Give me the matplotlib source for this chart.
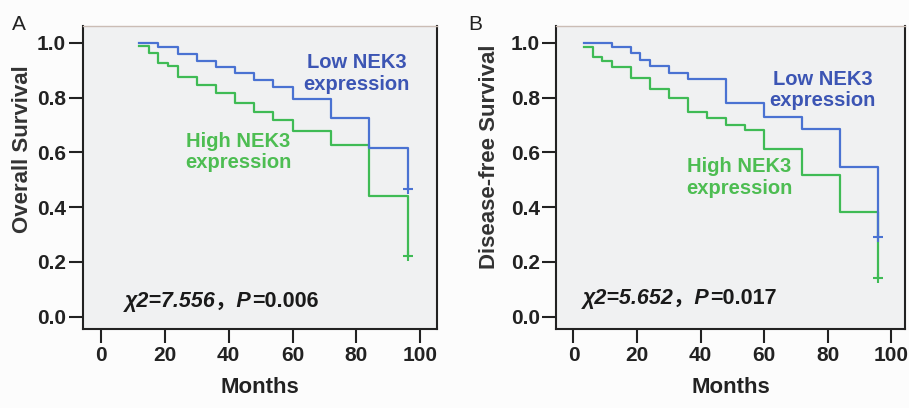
import numpy as np
import matplotlib
matplotlib.use("Agg")
import matplotlib.pyplot as plt

# Panel A: overall survival (Kaplan-Meier step values)
os_low_t = [12, 18, 24, 30, 36, 42, 48, 54, 60, 72, 84, 96]
os_low_s = [1.0, 0.983, 0.959, 0.934, 0.912, 0.888, 0.864, 0.839, 0.794, 0.724, 0.615, 0.465]
os_high_t = [12, 15, 18, 21, 24, 30, 36, 42, 48, 54, 60, 72, 84, 96]
os_high_s = [0.989, 0.961, 0.925, 0.915, 0.876, 0.846, 0.815, 0.779, 0.748, 0.718, 0.679, 0.627, 0.440, 0.22]

# Panel B: disease-free survival
dfs_low_t = [3.3, 12, 18, 21, 24, 30, 36, 48, 60, 72, 84, 96]
dfs_low_s = [1.0, 0.983, 0.961, 0.937, 0.915, 0.891, 0.866, 0.779, 0.730, 0.684, 0.547, 0.29]
dfs_high_t = [3.3, 6, 9, 12, 18, 24, 30, 36, 42, 48, 54, 60, 72, 84, 96]
dfs_high_s = [0.983, 0.949, 0.934, 0.910, 0.870, 0.831, 0.797, 0.748, 0.724, 0.700, 0.681, 0.612, 0.517, 0.383, 0.14]

panel_letters = ["A", "B"]
y_labels = ["Overall Survival", "Disease-free Survival"]
stat_italic = ["\u03c72=7.556\uff0cP", "\u03c72=5.652\uff0cP"]
stat_plain = ["=0.006", "=0.017"]
x_ticks = [0, 20, 40, 60, 80, 100]
y_ticks = [0.0, 0.2, 0.4, 0.6, 0.8, 1.0]

BLUE = "#4a72d2"
GREEN = "#3fbb55"
BLUE_TXT = "#3c55b4"
GREEN_TXT = "#4dbd52"
FONT = ["Liberation Sans", "Noto Sans CJK SC", "DejaVu Sans"]

plt.rcParams["font.family"] = FONT

fig = plt.figure(figsize=(9.09, 4.08), dpi=100)
fig.patch.set_facecolor("#fcfcfc")

axes = [
    fig.add_axes([0.091, 0.194, 0.390, 0.742]),
    fig.add_axes([0.612, 0.194, 0.384, 0.742]),
]
xlims = [(-5.7, 105.3), (-5.4, 104.5)]
ylabel_xy = [(-0.141, 0.594), (-0.162, 0.568)]

curves = [
    (os_low_t, os_low_s, os_high_t, os_high_s),
    (dfs_low_t, dfs_low_s, dfs_high_t, dfs_high_s),
]
label_pos = [
    ((80, 0.888), (43, 0.602), (7.5, 0.055)),
    ((78.4, 0.827), (52.3, 0.508), (3.1, 0.067)),
]

for i, ax in enumerate(axes):
    lt, ls, ht, hs = curves[i]
    ax.set_facecolor("#f0f1f2")
    ax.step(ht, hs, where="post", color=GREEN, lw=1.6, zorder=3)
    ax.step(lt, ls, where="post", color=BLUE, lw=1.6, zorder=4)
    ax.plot(lt[-1], ls[-1], "+", color=BLUE, ms=7, mew=1.5, zorder=5)
    ax.plot(ht[-1], hs[-1], "+", color=GREEN, ms=7, mew=1.5, zorder=5)

    ax.set_xlim(*xlims[i])
    ax.set_ylim(-0.045, 1.061)
    ax.set_xticks(x_ticks)
    ax.set_yticks(y_ticks)
    ax.set_yticklabels([f"{v:.1f}" for v in y_ticks])
    ax.tick_params(direction="out", length=10, width=1.5, color="#222",
                   labelsize=15, labelcolor="#222", pad=2)
    for lab in ax.get_xticklabels() + ax.get_yticklabels():
        lab.set_fontweight("bold")

    for side in ["left", "bottom", "right"]:
        ax.spines[side].set_color("#222")
        ax.spines[side].set_linewidth(1.5)
    ax.spines["top"].set_color("#cbbdb5")
    ax.spines["top"].set_linewidth(1.0)

    ax.set_xlabel("Months", fontsize=16, fontweight="bold", color="#222", labelpad=9)
    ax.set_ylabel(y_labels[i], fontsize=16, fontweight="bold", color="#333")
    ax.yaxis.set_label_coords(*ylabel_xy[i])

    (lx, ly), (hx, hy), (sx, sy) = label_pos[i]
    ax.text(lx, ly, "Low NEK3\nexpression", ha="center", va="center",
            fontsize=14.5, fontweight="bold", color=BLUE_TXT, linespacing=1.15)
    ax.text(hx, hy, "High NEK3\nexpression", ha="center", va="center",
            fontsize=14.5, fontweight="bold", color=GREEN_TXT, linespacing=1.15)
    t1 = ax.text(sx, sy, stat_italic[i], ha="left", va="center", fontsize=15.5,
                 fontweight="bold", fontstyle="italic", color="#1a1a1a")
    ax.annotate(stat_plain[i], xy=(1, 0), xycoords=t1, ha="left", va="bottom",
                fontsize=15.5, fontweight="bold", color="#1a1a1a")

fig.text(0.013, 0.927, panel_letters[0], fontsize=15, color="#222")
fig.text(0.515, 0.927, panel_letters[1], fontsize=15, color="#222")

fig.savefig("out.png", dpi=100, facecolor=fig.get_facecolor())
